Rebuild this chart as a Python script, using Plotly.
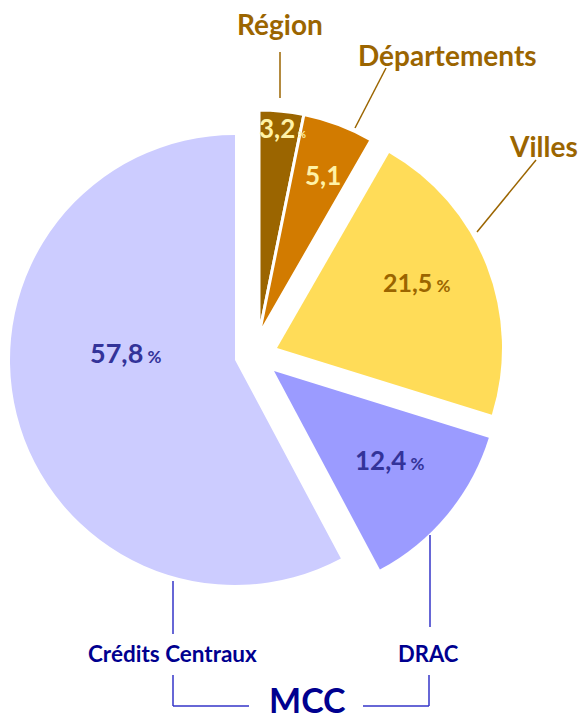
import plotly.graph_objects as go

W, H = 580, 722

# ---- data ----
categories = ["Région", "Départements", "Villes", "DRAC", "Crédits Centraux"]
values = [3.2, 5.1, 21.5, 12.4, 57.8]
slice_colors = ["#9b6500", "#d27b00", "#ffdc58", "#9b9bff", "#ccccff"]
value_text_colors = ["#fff2a6", "#fff2a6", "#9b6500", "#333399", "#333399"]
group_label = "MCC"

FONT = "Lato"
BROWN = "#9b6500"
NAVY = "#00008f"
BLUE_LINE = "#3535c8"
R = 225

def fmt(v):
    return f"{v:.1f}".replace(".", ",")

# each group of slices drawn with its own offset centre (px)
groups = [
    ([0, 1], (259, 335)),
    ([2], (277, 348)),
    ([3], (274, 371)),
    ([4], (235, 360)),
]

fig = go.Figure()
for idx, (cx, cy) in groups:
    cols = [slice_colors[i] if i in idx else "rgba(0,0,0,0)" for i in range(len(values))]
    lw = [3 if (i in idx and len(idx) > 1) else 0 for i in range(len(values))]
    fig.add_trace(go.Pie(
        labels=categories, values=values, sort=False, direction="clockwise",
        rotation=0, textinfo="none", showlegend=False,
        marker=dict(colors=cols, line=dict(color="white", width=lw)),
        domain=dict(x=[(cx - R) / W, (cx + R) / W],
                    y=[(H - cy - R) / H, (H - cy + R) / H]),
        hoverinfo="label+percent",
    ))

def P(x, y):
    return x / W, 1 - y / H

annotations = []
def ann(x, y, text, size, color, xanchor="center", yanchor="middle"):
    px, py = P(x, y)
    annotations.append(dict(x=px, y=py, xref="paper", yref="paper", text=text,
                            showarrow=False, xanchor=xanchor, yanchor=yanchor,
                            font=dict(family=FONT, size=size, color=color)))

# value labels inside slices
val_pos = [(257, 128), (303, 175), (381, 282), (353, 460), (88, 352)]
val_size = [26, 26, 25, 26, 27]
for i, (x, y) in enumerate(val_pos):
    pct_size = 10 if i == 0 else 17
    pct = "" if i == 1 else f"<span style='font-size:{pct_size}px'> %</span>"
    ann(x, y, f"<b>{fmt(values[i])}{pct}</b>", val_size[i], value_text_colors[i], xanchor="left")

# outer category labels
ann(280, 24, f"<b>{categories[0]}</b>", 28, BROWN)
ann(447, 55, f"<b>{categories[1]}</b>", 28, BROWN)
ann(543, 146, f"<b>{categories[2]}</b>", 28, BROWN)
ann(428, 653, f"<b>{categories[3]}</b>", 22, NAVY)
ann(172, 653, f"<b>{categories[4]}</b>", 22.5, NAVY)
ann(307, 722, f"<b>{group_label}</b>", 34, NAVY, yanchor="bottom")

shapes = []
def line(x0, y0, x1, y1, color, width=1.5):
    a, b = P(x0, y0)
    c, d = P(x1, y1)
    shapes.append(dict(type="line", xref="paper", yref="paper", x0=a, y0=b, x1=c, y1=d,
                       line=dict(color=color, width=width)))

line(280, 52, 280, 98, BROWN)
line(386, 68, 355, 128, BROWN)
line(536, 160, 477, 232, BROWN)
line(430, 535, 430, 627, BLUE_LINE)
line(173, 581, 173, 634, BLUE_LINE)
# MCC bracket
line(173, 675, 173, 706, BLUE_LINE)
line(173, 706, 249, 706, BLUE_LINE)
line(363, 706, 429, 706, BLUE_LINE)
line(429, 706, 429, 675, BLUE_LINE)

fig.update_layout(
    width=W, height=H, margin=dict(l=0, r=0, t=0, b=0),
    paper_bgcolor="white", plot_bgcolor="white",
    annotations=annotations, shapes=shapes,
)

fig.write_html("out.html")
